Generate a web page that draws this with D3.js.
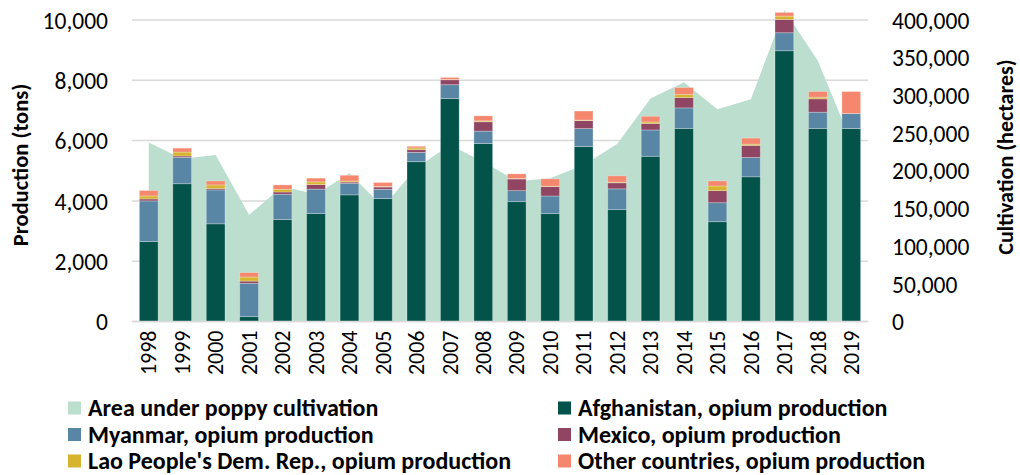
<!DOCTYPE html>
<html>
<head>
<meta charset="utf-8">
<script src="https://cdn.jsdelivr.net/npm/d3@7"></script>
<style>
  html, body { margin: 0; padding: 0; background: #fff; }
  svg { display: block; }
  text { font-family: Carlito, Calibri, "Liberation Sans", Arial, sans-serif; fill: #000; }
</style>
</head>
<body>
<svg id="chart" width="1020" height="475"></svg>
<script>
const years = ["1998","1999","2000","2001","2002","2003","2004","2005","2006","2007","2008","2009","2010","2011","2012","2013","2014","2015","2016","2017","2018","2019"];
const areaCultivation = [237500,216000,221000,141500,179500,168500,196600,152000,203500,234000,212000,186000,190000,207500,235500,296000,317500,281500,294800,413000,346000,238000];
const afghanistan = [2650,4570,3240,160,3380,3580,4200,4075,5300,7400,5900,3975,3577,5800,3710,5480,6400,3310,4800,8980,6400,6400];
const myanmar = [1350,875,1125,1105,840,810,380,310,310,453,415,365,586,597,690,873,685,630,641,597,542,497];
const mexico = [65,45,45,75,75,150,45,75,88,165,310,387,310,265,200,210,343,400,398,442,442,0];
const lao = [100,130,120,135,90,90,35,20,60,10,30,15,15,20,20,55,100,155,44,110,55,0];
const other = [180,130,130,145,145,125,190,130,55,66,166,155,243,298,210,188,232,166,199,122,188,730];
const leftTicks = [0,2000,4000,6000,8000,10000];
const rightTicks = [0,50000,100000,150000,200000,250000,300000,350000,400000];

const seriesNames = ["Afghanistan, opium production","Myanmar, opium production","Mexico, opium production","Lao People's Dem. Rep., opium production","Other countries, opium production"];
const seriesKeys = ["afg","mya","mex","lao","oth"];
const colors = {area:"#bcdecf", afg:"#03534b", mya:"#5886a4", mex:"#904563", lao:"#d6b42e", oth:"#f4876d"};

const rows = years.map((y,i)=>({year:y, afg:afghanistan[i], mya:myanmar[i], mex:mexico[i], lao:lao[i], oth:other[i], area:areaCultivation[i]}));

const FONT = 'Carlito, Calibri, "Liberation Sans", Arial, sans-serif';
const svg = d3.select("#chart");
const plot = {left:132, right:868, top:20, bottom:321.5};

const x = d3.scaleBand().domain(years).range([plot.left, plot.right]).paddingInner(0.44).paddingOuter(0.22);
const yL = d3.scaleLinear().domain([0,10000]).range([plot.bottom, plot.top]);
const yR = d3.scaleLinear().domain([0,400000]).range([plot.bottom, plot.top]);

// gridlines
svg.append("g").selectAll("line").data(leftTicks).join("line")
  .attr("x1", plot.left).attr("x2", plot.right)
  .attr("y1", d=>yL(d)).attr("y2", d=>yL(d))
  .attr("stroke", "#d9d9d9").attr("stroke-width", 1.5);

// area
const area = d3.area()
  .x(d=>x(d.year)+x.bandwidth()/2)
  .y0(yR(0)).y1(d=>yR(d.area));
svg.append("path").datum(rows).attr("d", area).attr("fill", colors.area);

// stacked bars
const stack = d3.stack().keys(seriesKeys)(rows);
svg.append("g").selectAll("g").data(stack).join("g")
  .attr("fill", d=>colors[d.key])
  .selectAll("rect").data(d=>d.filter(s=>s[1]-s[0]>0)).join("rect")
  .attr("x", d=>x(d.data.year))
  .attr("width", x.bandwidth())
  .attr("y", d=>yL(d[1]))
  .attr("height", d=>yL(d[0])-yL(d[1]))
  .attr("stroke", "rgba(255,255,255,0.35)").attr("stroke-width", 0.8);

// baseline
svg.append("line").attr("x1", plot.left).attr("x2", plot.right)
  .attr("y1", plot.bottom).attr("y2", plot.bottom)
  .attr("stroke", "#d9d9d9").attr("stroke-width", 1.5);

// left axis labels
const axisL = d3.axisLeft(yL).tickValues(leftTicks).tickFormat(d3.format(",")).tickSize(0).tickPadding(24);
const gL = svg.append("g").attr("transform", `translate(${plot.left},0)`).call(axisL);
gL.select(".domain").remove();
gL.selectAll("text").style("font-size","23.5px").attr("dy","0.35em").style("font-family", FONT).style("fill","#000");

// right axis labels
const axisR = d3.axisRight(yR).tickValues(rightTicks).tickFormat(d3.format(",")).tickSize(0).tickPadding(24);
const gR = svg.append("g").attr("transform", `translate(${plot.right},0)`).call(axisR);
gR.select(".domain").remove();
gR.selectAll("text").style("font-size","23.5px").attr("dy","0.35em").style("font-family", FONT).style("fill","#000");

// x axis labels
const axisX = d3.axisBottom(x).tickSize(0).tickPadding(0);
const gX = svg.append("g").attr("transform", `translate(0,${plot.bottom})`).call(axisX);
gX.select(".domain").remove();
gX.selectAll("text")
  .style("font-size","22px")
  .style("font-family", FONT).style("fill","#000")
  .attr("text-anchor","end")
  .attr("transform","translate(0,9) rotate(-90)")
  .attr("x",0).attr("y",0).attr("dy","0.35em");

// axis titles
svg.append("text")
  .attr("transform", `translate(20,165) rotate(-90)`)
  .attr("text-anchor","middle").attr("dy","0.35em")
  .style("font-size","22.5px").style("font-weight","bold")
  .text("Production (tons)");
svg.append("text")
  .attr("transform", `translate(1005,157) rotate(-90)`)
  .attr("text-anchor","middle").attr("dy","0.35em")
  .style("font-size","22px").style("font-weight","bold")
  .text("Cultivation (hectares)");

// legend
const legendItems = [
  {name:"Area under poppy cultivation", color:colors.area},
  {name:seriesNames[0], color:colors.afg},
  {name:seriesNames[1], color:colors.mya},
  {name:seriesNames[2], color:colors.mex},
  {name:seriesNames[3], color:colors.lao},
  {name:seriesNames[4], color:colors.oth}
];
const colX = [68, 558];
const rowY = [408, 434.5, 461];
const lg = svg.append("g").selectAll("g").data(legendItems).join("g")
  .attr("transform", (d,i)=>`translate(${colX[i%2]},${rowY[Math.floor(i/2)]})`);
lg.append("rect").attr("x",0).attr("y",-6.5).attr("width",13).attr("height",13).attr("fill",d=>d.color);
lg.append("text").attr("x",20).attr("dy","0.35em")
  .style("font-size","24px").style("font-weight","bold")
  .text(d=>d.name);
</script>
</body>
</html>
